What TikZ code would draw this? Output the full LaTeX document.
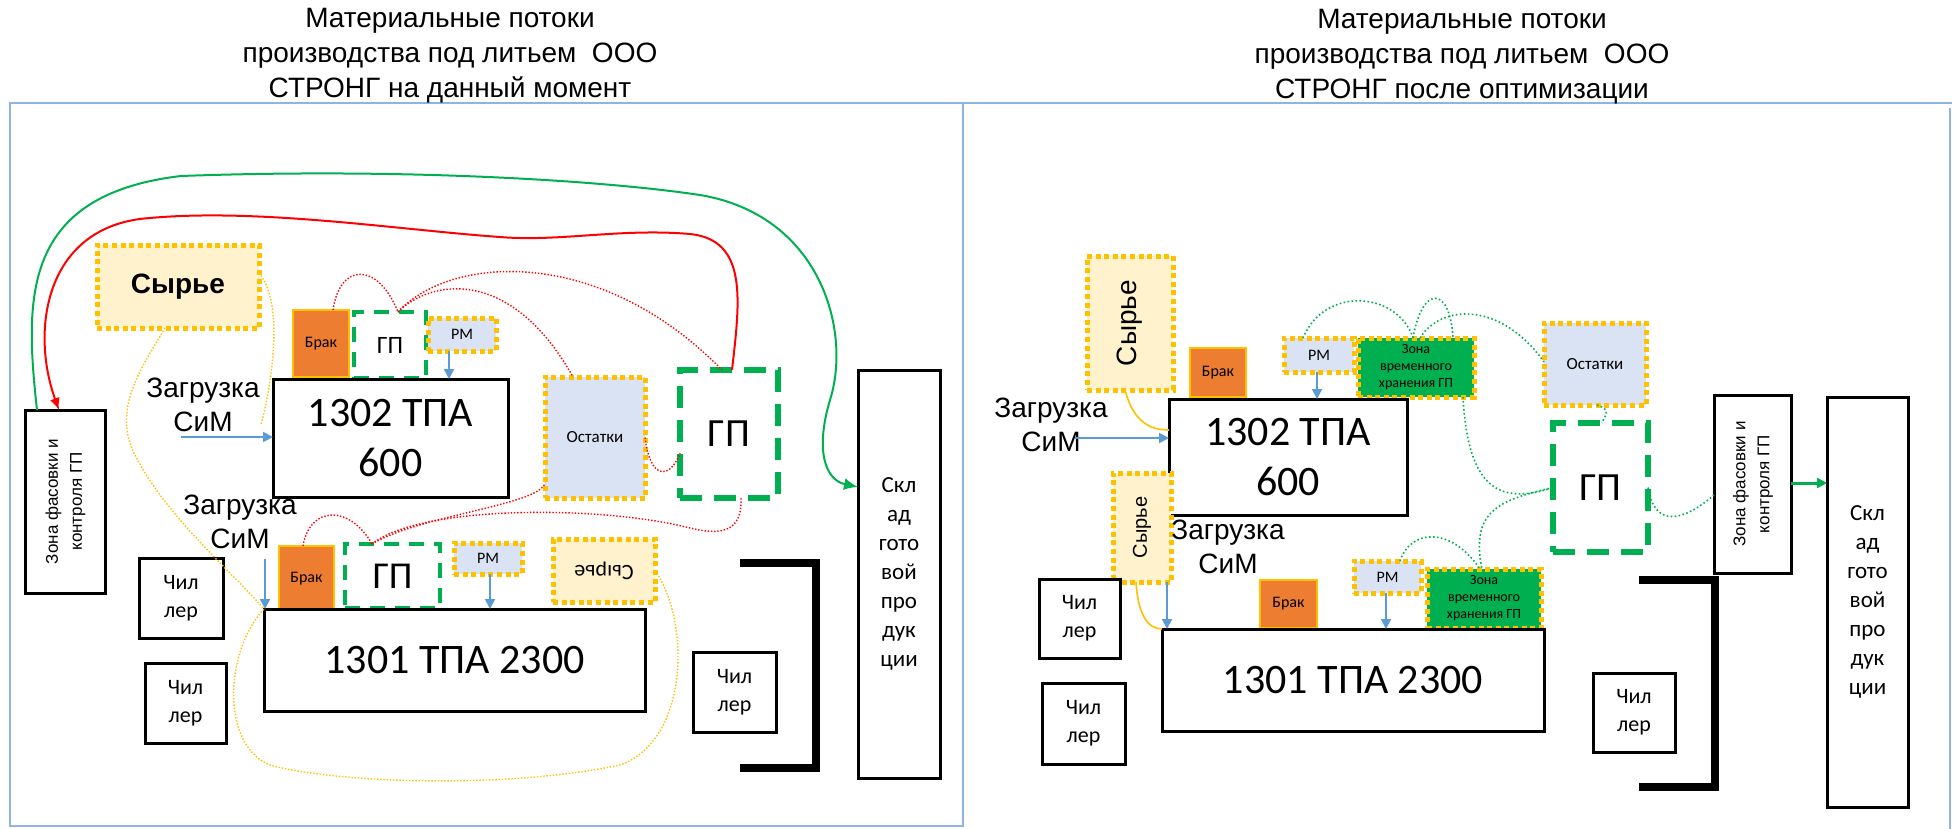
\documentclass[tikz,border=0pt]{standalone}
\usepackage{fontspec}
\setmainfont{Liberation Sans}
\newfontfamily\calib{Carlito}
\usepackage{graphicx}
\usetikzlibrary{arrows.meta,calc}
\definecolor{ora}{HTML}{FFC000}
\definecolor{lyel}{HTML}{FFF2CC}
\definecolor{lblu}{HTML}{DAE3F3}
\definecolor{brk}{HTML}{ED7D31}
\definecolor{grn}{HTML}{00B050}
\definecolor{barc}{HTML}{5B9BD5}
\definecolor{frm}{HTML}{8EB4E3}
\definecolor{rd}{HTML}{FF0000}
\newcommand\mkbox[7]{\node[#2, minimum width={(#5-(#3))*0.5pt}, minimum height={(#6-(#4))*0.5pt}] (#1) at ({(#3+#5)/2},{(#4+#6)/2}) {#7};}
\newcommand\zonatext{\rotatebox{90}{\fontsize{8.5}{12}\selectfont\begin{tabular}{@{}c@{}}Зона фасовки и\\контроля ГП\end{tabular}}}
\begin{document}
\begin{tikzpicture}[x=0.5pt,y=-0.5pt,
  base/.style={inner sep=0pt, outer sep=0pt, align=center},
  blk/.style={base, draw=black, line width=1.5pt, fill=white},
  dotb/.style={base, draw=ora, line width=2.5pt, dash pattern=on 2.5pt off 1.8pt},
  syr/.style={dotb, fill=lyel},
  blu/.style={dotb, fill=lblu, font=\calib\fontsize{8}{9}\selectfont},
  zvh/.style={dotb, fill=grn, font=\calib\fontsize{7}{8.5}\selectfont},
  brak/.style={base, fill=brk, draw=ora, line width=1.3pt, font=\calib\fontsize{8}{9}\selectfont},
  gps/.style={base, draw=grn, line width=2pt, dash pattern=on 7.5pt off 5pt},
  gpl/.style={base, draw=grn, line width=3pt, dash pattern=on 11pt off 6pt, font=\calib\fontsize{20}{24}\selectfont},
  tpa/.style={blk, font=\calib\fontsize{21}{25}\selectfont},
  chil/.style={blk, font=\calib\fontsize{11}{14}\selectfont},
  sklad/.style={blk, font=\calib\fontsize{11.5}{14.5}\selectfont},
  txt/.style={inner sep=0pt, align=center, font=\fontsize{14}{17}\selectfont},
  ttl/.style={inner sep=0pt, align=center, font=\fontsize{14}{17.5}\selectfont},
  frame/.style={draw=frm, line width=1pt},
  rdot/.style={draw=rd, line width=0.7pt, dash pattern=on 0.7pt off 0.9pt},
  gdot/.style={draw=grn, line width=0.8pt, dash pattern=on 0.8pt off 1.2pt},
  odot/.style={draw=ora, line width=0.7pt, dash pattern=on 0.7pt off 0.9pt},
  ocur/.style={draw=ora, line width=0.8pt},
  barr/.style={draw=barc, line width=1pt, -{Triangle[length=5pt,width=5pt]}},
  gline/.style={draw=grn, line width=1pt, -{Latex[length=7pt,width=6pt]}},
  rline/.style={draw=rd, line width=1pt, -{Latex[length=6pt,width=5pt]}},
  garr/.style={draw=grn, line width=1.5pt, -{Triangle[length=5pt,width=5pt]}},
  brkt/.style={draw=black, line width=4pt, line join=miter}]
\useasboundingbox (0,0) rectangle (1954,829);
% frames
\draw[frame] (10,103) rectangle (963,826);
\draw[frame] (963,103) -- (1952,103);
\draw[frame] (1950,108) -- (1950,829);
% titles
\node[ttl] (titleL) at (450,56) {Материальные потоки\\производства под литьем\ \ ООО\\СТРОНГ на данный момент};
\node[ttl] (titleR) at (1462,57) {Материальные потоки\\производства под литьем\ \ ООО\\СТРОНГ после оптимизации};
% ---------- left panel ----------
\mkbox{zonaL}{blk}{25}{410}{105}{593}{\zonatext}
\mkbox{syrA}{syr, font=\bfseries\fontsize{14}{16}\selectfont}{97}{245}{259}{328}{Сырье}
\mkbox{brakA}{brak}{293}{310}{349}{377}{Брак}
\mkbox{gpA}{gps, font=\calib\fontsize{12.5}{14}\selectfont}{354}{312}{426}{378}{ГП}
\mkbox{rmA}{blu}{428}{318}{496}{351}{РМ}
\mkbox{tpaA}{tpa}{273}{379}{508}{497}{1302 ТПА\\600}
\mkbox{ostA}{blu, font=\calib\fontsize{8.5}{10}\selectfont}{545}{377}{645}{498}{Остатки}
\mkbox{gpbA}{gpl}{680}{370}{778}{498}{ГП}
\mkbox{skladA}{sklad}{858}{370}{940}{778}{Скл\\ад\\гото\\вой\\про\\дук\\ции}
\mkbox{brakB}{brak}{279}{546}{334}{612}{Брак}
\mkbox{gpB}{gps, font=\calib\fontsize{19}{22}\selectfont}{345}{544}{440}{608}{ГП}
\mkbox{rmB}{blu}{454}{543}{522}{574}{РМ}
\mkbox{syrB}{syr, font=\calib\fontsize{11}{12}\selectfont}{553}{539}{655}{602}{\rotatebox{180}{Сырье}}
\mkbox{tpaB}{tpa}{264}{609}{645}{711}{1301 ТПА 2300}
\mkbox{chA1}{chil}{139}{558}{223}{638}{Чил\\лер}
\mkbox{chA2}{chil}{145}{663}{226}{743}{Чил\\лер}
\mkbox{chA3}{chil}{693}{652}{776}{732}{Чил\\лер}
\draw[brkt] (740,563) -- (816,563) -- (816,768) -- (740,768);
\node[txt] (zagA1) at (203,405) {Загрузка\\СиМ};
\node[txt] (zagA2) at (240,522) {Загрузка\\СиМ};
\coordinate (zA1a) at (181,437);
\coordinate (zA2a) at (265,559);
\draw[barr] (zA1a) -- (zA1a -| tpaA.west);
\draw[barr] (zA2a) -- (zA2a |- tpaB.north);
\draw[barr] (rmA.south -| 449,0) -- (tpaA.north -| 449,0);
\draw[barr] (rmB.south -| 490,0) -- (tpaB.north -| 490,0);
% long curves
\draw[gline] (zonaL.north -| 37,0) .. controls (25,300) and (20,195) .. (181,176) .. controls (400,168) and (600,180) .. (700,195) .. controls (820,215) and (852,330) .. (830,400) .. controls (815,450) and (825,480) .. (skladA.west |- 0,487);
\draw[rline] (gpbA.north -| 732,0) .. controls (740,300) and (748,240) .. (690,234) .. controls (620,228) and (560,242) .. (500,237) .. controls (400,230) and (260,208) .. (150,218) .. controls (45,225) and (30,330) .. (zonaL.north -| 59,0);
% red dotted
\draw[rdot] (brakA.north -| 333,0) .. controls (340,262) and (378,262) .. (gpA.north -| 398,0);
\draw[rdot] (gpA.north -| 398,0) .. controls (450,255) and (600,245) .. (gpbA.north -| 722,0);
\draw[rdot] (gpA.north -| 398,0) .. controls (430,280) and (510,265) .. (ostA.north -| 573,0);
\draw[rdot] (ostA.east) .. controls (650,480) and (670,480) .. (gpbA.west |- 0,453);
\draw[rdot] (brakB.north -| 303,0) .. controls (310,505) and (350,505) .. (gpB.north -| 372,0);
\draw[rdot] (gpB.north -| 372,0) .. controls (420,515) and (540,505) .. (ostA.west |- 0,483);
\draw[rdot] (gpB.north -| 372,0) .. controls (420,505) and (600,505) .. (690,528) .. controls (730,538) and (742,525) .. (gpbA.south -| 741,0);
% orange dotted
\coordinate (oA1) at (261,425);
\draw[odot] (syrA.east |- 0,273) .. controls (282,300) and (275,370) .. (oA1);
\draw[odot] (syrA.south -| 165,0) .. controls (140,370) and (112,410) .. (135,455) .. controls (165,515) and (230,570) .. (tpaB.north west);
\draw[odot] (syrB.east) .. controls (690,620) and (690,740) .. (620,765) .. controls (500,790) and (330,782) .. (270,765) .. controls (220,745) and (225,650) .. (tpaB.north west);
% ---------- right panel ----------
\mkbox{syrC}{syr, font=\fontsize{14}{16}\selectfont}{1087}{256}{1173}{390}{\rotatebox{90}{Сырье}}
\mkbox{brakC}{brak}{1190}{348}{1246}{397}{Брак}
\mkbox{rmC}{blu}{1284}{338}{1354}{372}{РМ}
\mkbox{zvC}{zvh}{1358}{338}{1474}{397}{Зона\\временного\\хранения ГП}
\mkbox{ostC}{blu, font=\calib\fontsize{8.5}{10}\selectfont}{1544}{323}{1646}{405}{Остатки}
\mkbox{tpaC}{tpa}{1169}{399}{1407}{515}{1302 ТПА\\600}
\mkbox{syrD}{syr, font=\fontsize{10}{12}\selectfont}{1113}{473}{1171}{582}{\rotatebox{90}{Сырье}}
\mkbox{brakD}{brak}{1260}{580}{1317}{628}{Брак}
\mkbox{rmD}{blu}{1354}{561}{1421}{593}{РМ}
\mkbox{zvD}{zvh}{1427}{569}{1541}{628}{Зона\\временного\\хранения ГП}
\mkbox{tpaD}{tpa}{1162}{629}{1544}{731}{1301 ТПА 2300}
\mkbox{gpC}{gpl}{1553}{423}{1648}{552}{ГП}
\mkbox{zonaC}{blk}{1714}{395}{1791}{573}{\zonatext}
\mkbox{skladC}{sklad}{1827}{397}{1908}{807}{Скл\\ад\\гото\\вой\\про\\дук\\ции}
\mkbox{chC1}{chil}{1039}{579}{1120}{658}{Чил\\лер}
\mkbox{chC2}{chil}{1042}{683}{1125}{764}{Чил\\лер}
\mkbox{chC3}{chil}{1593}{673}{1675}{752}{Чил\\лер}
\draw[brkt] (1639,580) -- (1715,580) -- (1715,787) -- (1639,787);
\node[txt] (zagC1) at (1051,425) {Загрузка\\СиМ};
\node[txt] (zagC2) at (1228,547) {Загрузка\\СиМ};
\coordinate (zC1a) at (1075,438);
\coordinate (zC2a) at (1167,582);
\draw[barr] (zC1a) -- (zC1a -| tpaC.west);
\draw[barr] (zC2a) -- (zC2a |- tpaD.north);
\draw[barr] (rmC.south -| 1317,0) -- (tpaC.north -| 1317,0);
\draw[barr] (rmD.south -| 1386,0) -- (tpaD.north -| 1386,0);
\draw[garr] (zonaC.east |- 0,483) -- (skladC.west |- 0,483);
\draw[ocur] (syrC.south -| 1125,0) .. controls (1133,420) and (1148,430) .. (tpaC.west |- 0,430);
\draw[ocur] (syrD.south -| 1136,0) .. controls (1138,615) and (1148,629) .. (tpaD.north west);
% green dotted
\draw[gdot] (rmC.north -| 1303,0) .. controls (1325,285) and (1398,292) .. (zvC.north -| 1413,0);
\draw[gdot] (zvC.north -| 1413,0) .. controls (1422,285) and (1450,285) .. (zvC.north -| 1453,0);
\draw[gdot] (zvC.north -| 1420,0) .. controls (1440,305) and (1500,300) .. (ostC.west |- 0,362);
\draw[gdot] (zvC.south -| 1463,0) .. controls (1468,490) and (1500,505) .. (gpC.west);
\draw[gdot] (gpC.west) .. controls (1500,500) and (1470,510) .. (zvD.north -| 1482,0);
\draw[gdot] (rmD.north -| 1400,0) .. controls (1410,530) and (1450,525) .. (zvD.north -| 1480,0);
\draw[gdot] (ostC.south -| 1597,0) .. controls (1612,410) and (1605,415) .. (gpC.north -| 1602,0);
\draw[gdot] (gpC.east) .. controls (1655,530) and (1685,520) .. (zonaC.west |- 0,495);
\end{tikzpicture}
\end{document}
